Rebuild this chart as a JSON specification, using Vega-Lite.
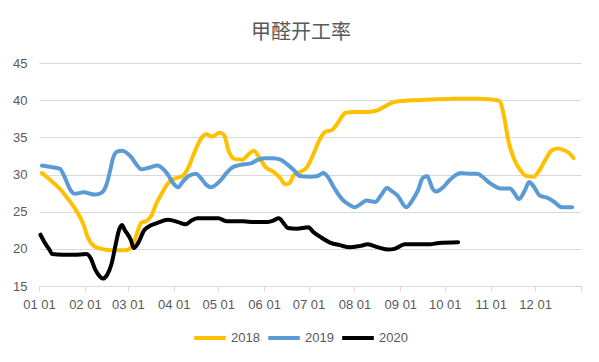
{
  "$schema": "https://vega.github.io/schema/vega-lite/v6.json",
  "autosize": "none",
  "width": 542,
  "height": 223,
  "padding": {"left": 39, "top": 63, "right": 18, "bottom": 76},
  "background": "white",
  "title": {
    "text": "甲醛开工率",
    "font": "Noto Sans CJK SC",
    "fontSize": 20,
    "fontWeight": "normal",
    "color": "#595959",
    "anchor": "middle",
    "frame": "group",
    "dx": -9,
    "offset": 14
  },
  "datasets": {
    "rates": [
      {"year": "2018", "date": "2018-01-03", "rate": 30.2},
      {"year": "2018", "date": "2018-01-09", "rate": 29.2},
      {"year": "2018", "date": "2018-01-15", "rate": 28.1},
      {"year": "2018", "date": "2018-01-21", "rate": 26.6},
      {"year": "2018", "date": "2018-01-26", "rate": 25.2},
      {"year": "2018", "date": "2018-01-31", "rate": 23.3},
      {"year": "2018", "date": "2018-02-03", "rate": 21.5},
      {"year": "2018", "date": "2018-02-07", "rate": 20.4},
      {"year": "2018", "date": "2018-02-12", "rate": 20.0},
      {"year": "2018", "date": "2018-02-20", "rate": 19.8},
      {"year": "2018", "date": "2018-02-28", "rate": 19.8},
      {"year": "2018", "date": "2018-03-04", "rate": 20.3},
      {"year": "2018", "date": "2018-03-07", "rate": 22.0},
      {"year": "2018", "date": "2018-03-10", "rate": 23.5},
      {"year": "2018", "date": "2018-03-14", "rate": 23.8},
      {"year": "2018", "date": "2018-03-17", "rate": 24.5},
      {"year": "2018", "date": "2018-03-20", "rate": 26.0},
      {"year": "2018", "date": "2018-03-24", "rate": 27.5},
      {"year": "2018", "date": "2018-03-28", "rate": 28.8},
      {"year": "2018", "date": "2018-04-01", "rate": 29.4},
      {"year": "2018", "date": "2018-04-07", "rate": 29.8},
      {"year": "2018", "date": "2018-04-11", "rate": 31.0},
      {"year": "2018", "date": "2018-04-15", "rate": 33.0},
      {"year": "2018", "date": "2018-04-20", "rate": 35.0},
      {"year": "2018", "date": "2018-04-23", "rate": 35.4},
      {"year": "2018", "date": "2018-04-27", "rate": 35.1},
      {"year": "2018", "date": "2018-05-02", "rate": 35.6},
      {"year": "2018", "date": "2018-05-05", "rate": 35.3},
      {"year": "2018", "date": "2018-05-08", "rate": 33.2},
      {"year": "2018", "date": "2018-05-12", "rate": 32.1},
      {"year": "2018", "date": "2018-05-17", "rate": 32.0},
      {"year": "2018", "date": "2018-05-22", "rate": 32.8},
      {"year": "2018", "date": "2018-05-25", "rate": 33.2},
      {"year": "2018", "date": "2018-05-29", "rate": 32.2},
      {"year": "2018", "date": "2018-06-02", "rate": 31.0},
      {"year": "2018", "date": "2018-06-07", "rate": 30.4},
      {"year": "2018", "date": "2018-06-12", "rate": 29.5},
      {"year": "2018", "date": "2018-06-15", "rate": 28.7},
      {"year": "2018", "date": "2018-06-18", "rate": 28.8},
      {"year": "2018", "date": "2018-06-21", "rate": 29.9},
      {"year": "2018", "date": "2018-06-25", "rate": 30.3},
      {"year": "2018", "date": "2018-06-30", "rate": 31.0},
      {"year": "2018", "date": "2018-07-04", "rate": 32.6},
      {"year": "2018", "date": "2018-07-08", "rate": 34.5},
      {"year": "2018", "date": "2018-07-12", "rate": 35.7},
      {"year": "2018", "date": "2018-07-17", "rate": 36.0},
      {"year": "2018", "date": "2018-07-21", "rate": 37.0},
      {"year": "2018", "date": "2018-07-26", "rate": 38.3},
      {"year": "2018", "date": "2018-08-01", "rate": 38.4},
      {"year": "2018", "date": "2018-08-09", "rate": 38.4},
      {"year": "2018", "date": "2018-08-16", "rate": 38.6},
      {"year": "2018", "date": "2018-08-21", "rate": 39.1},
      {"year": "2018", "date": "2018-08-27", "rate": 39.7},
      {"year": "2018", "date": "2018-09-03", "rate": 39.9},
      {"year": "2018", "date": "2018-09-13", "rate": 40.0},
      {"year": "2018", "date": "2018-09-23", "rate": 40.1},
      {"year": "2018", "date": "2018-10-08", "rate": 40.2},
      {"year": "2018", "date": "2018-10-23", "rate": 40.2},
      {"year": "2018", "date": "2018-11-02", "rate": 40.1},
      {"year": "2018", "date": "2018-11-07", "rate": 39.9},
      {"year": "2018", "date": "2018-11-10", "rate": 37.8},
      {"year": "2018", "date": "2018-11-13", "rate": 34.5},
      {"year": "2018", "date": "2018-11-17", "rate": 32.0},
      {"year": "2018", "date": "2018-11-21", "rate": 30.6},
      {"year": "2018", "date": "2018-11-25", "rate": 29.8},
      {"year": "2018", "date": "2018-11-30", "rate": 29.7},
      {"year": "2018", "date": "2018-12-04", "rate": 30.6},
      {"year": "2018", "date": "2018-12-08", "rate": 32.0},
      {"year": "2018", "date": "2018-12-12", "rate": 33.2},
      {"year": "2018", "date": "2018-12-16", "rate": 33.5},
      {"year": "2018", "date": "2018-12-20", "rate": 33.3},
      {"year": "2018", "date": "2018-12-24", "rate": 32.9},
      {"year": "2018", "date": "2018-12-27", "rate": 32.2},

      {"year": "2019", "date": "2019-01-03", "rate": 31.2},
      {"year": "2019", "date": "2019-01-09", "rate": 31.0},
      {"year": "2019", "date": "2019-01-15", "rate": 30.8},
      {"year": "2019", "date": "2019-01-18", "rate": 29.8},
      {"year": "2019", "date": "2019-01-22", "rate": 28.0},
      {"year": "2019", "date": "2019-01-25", "rate": 27.4},
      {"year": "2019", "date": "2019-01-31", "rate": 27.6},
      {"year": "2019", "date": "2019-02-08", "rate": 27.3},
      {"year": "2019", "date": "2019-02-12", "rate": 27.5},
      {"year": "2019", "date": "2019-02-16", "rate": 28.9},
      {"year": "2019", "date": "2019-02-18", "rate": 30.5},
      {"year": "2019", "date": "2019-02-20", "rate": 32.2},
      {"year": "2019", "date": "2019-02-23", "rate": 33.1},
      {"year": "2019", "date": "2019-02-26", "rate": 33.2},
      {"year": "2019", "date": "2019-03-03", "rate": 32.4},
      {"year": "2019", "date": "2019-03-07", "rate": 31.3},
      {"year": "2019", "date": "2019-03-10", "rate": 30.7},
      {"year": "2019", "date": "2019-03-15", "rate": 30.9},
      {"year": "2019", "date": "2019-03-21", "rate": 31.2},
      {"year": "2019", "date": "2019-03-25", "rate": 30.7},
      {"year": "2019", "date": "2019-03-28", "rate": 30.0},
      {"year": "2019", "date": "2019-03-31", "rate": 29.0},
      {"year": "2019", "date": "2019-04-04", "rate": 28.3},
      {"year": "2019", "date": "2019-04-07", "rate": 29.0},
      {"year": "2019", "date": "2019-04-11", "rate": 29.8},
      {"year": "2019", "date": "2019-04-16", "rate": 30.1},
      {"year": "2019", "date": "2019-04-19", "rate": 29.6},
      {"year": "2019", "date": "2019-04-23", "rate": 28.6},
      {"year": "2019", "date": "2019-04-26", "rate": 28.3},
      {"year": "2019", "date": "2019-05-03", "rate": 29.3},
      {"year": "2019", "date": "2019-05-07", "rate": 30.3},
      {"year": "2019", "date": "2019-05-11", "rate": 31.0},
      {"year": "2019", "date": "2019-05-16", "rate": 31.3},
      {"year": "2019", "date": "2019-05-23", "rate": 31.5},
      {"year": "2019", "date": "2019-05-27", "rate": 31.9},
      {"year": "2019", "date": "2019-06-01", "rate": 32.2},
      {"year": "2019", "date": "2019-06-07", "rate": 32.2},
      {"year": "2019", "date": "2019-06-12", "rate": 32.0},
      {"year": "2019", "date": "2019-06-17", "rate": 31.3},
      {"year": "2019", "date": "2019-06-21", "rate": 30.6},
      {"year": "2019", "date": "2019-06-25", "rate": 29.8},
      {"year": "2019", "date": "2019-07-02", "rate": 29.7},
      {"year": "2019", "date": "2019-07-07", "rate": 29.8},
      {"year": "2019", "date": "2019-07-11", "rate": 30.2},
      {"year": "2019", "date": "2019-07-14", "rate": 29.7},
      {"year": "2019", "date": "2019-07-18", "rate": 28.3},
      {"year": "2019", "date": "2019-07-24", "rate": 26.6},
      {"year": "2019", "date": "2019-07-28", "rate": 26.0},
      {"year": "2019", "date": "2019-08-01", "rate": 25.6},
      {"year": "2019", "date": "2019-08-05", "rate": 26.0},
      {"year": "2019", "date": "2019-08-09", "rate": 26.5},
      {"year": "2019", "date": "2019-08-15", "rate": 26.3},
      {"year": "2019", "date": "2019-08-19", "rate": 27.2},
      {"year": "2019", "date": "2019-08-23", "rate": 28.2},
      {"year": "2019", "date": "2019-08-26", "rate": 27.8},
      {"year": "2019", "date": "2019-08-30", "rate": 27.2},
      {"year": "2019", "date": "2019-09-05", "rate": 25.6},
      {"year": "2019", "date": "2019-09-09", "rate": 26.5},
      {"year": "2019", "date": "2019-09-13", "rate": 27.9},
      {"year": "2019", "date": "2019-09-16", "rate": 29.5},
      {"year": "2019", "date": "2019-09-19", "rate": 29.8},
      {"year": "2019", "date": "2019-09-23", "rate": 28.0},
      {"year": "2019", "date": "2019-09-25", "rate": 27.7},
      {"year": "2019", "date": "2019-09-30", "rate": 28.3},
      {"year": "2019", "date": "2019-10-04", "rate": 29.2},
      {"year": "2019", "date": "2019-10-12", "rate": 30.2},
      {"year": "2019", "date": "2019-10-18", "rate": 30.1},
      {"year": "2019", "date": "2019-10-23", "rate": 30.1},
      {"year": "2019", "date": "2019-10-27", "rate": 29.6},
      {"year": "2019", "date": "2019-10-31", "rate": 28.9},
      {"year": "2019", "date": "2019-11-04", "rate": 28.4},
      {"year": "2019", "date": "2019-11-08", "rate": 28.1},
      {"year": "2019", "date": "2019-11-14", "rate": 28.1},
      {"year": "2019", "date": "2019-11-17", "rate": 27.5},
      {"year": "2019", "date": "2019-11-20", "rate": 26.7},
      {"year": "2019", "date": "2019-11-24", "rate": 27.8},
      {"year": "2019", "date": "2019-11-27", "rate": 29.0},
      {"year": "2019", "date": "2019-11-30", "rate": 28.4},
      {"year": "2019", "date": "2019-12-04", "rate": 27.2},
      {"year": "2019", "date": "2019-12-10", "rate": 26.8},
      {"year": "2019", "date": "2019-12-14", "rate": 26.3},
      {"year": "2019", "date": "2019-12-19", "rate": 25.6},
      {"year": "2019", "date": "2019-12-26", "rate": 25.6},

      {"year": "2020", "date": "2020-01-02", "rate": 21.9},
      {"year": "2020", "date": "2020-01-05", "rate": 20.8},
      {"year": "2020", "date": "2020-01-08", "rate": 19.9},
      {"year": "2020", "date": "2020-01-10", "rate": 19.3},
      {"year": "2020", "date": "2020-01-17", "rate": 19.2},
      {"year": "2020", "date": "2020-01-25", "rate": 19.2},
      {"year": "2020", "date": "2020-02-02", "rate": 19.3},
      {"year": "2020", "date": "2020-02-05", "rate": 18.7},
      {"year": "2020", "date": "2020-02-08", "rate": 17.2},
      {"year": "2020", "date": "2020-02-11", "rate": 16.3},
      {"year": "2020", "date": "2020-02-13", "rate": 16.0},
      {"year": "2020", "date": "2020-02-16", "rate": 16.5},
      {"year": "2020", "date": "2020-02-19", "rate": 18.0},
      {"year": "2020", "date": "2020-02-22", "rate": 20.8},
      {"year": "2020", "date": "2020-02-24", "rate": 22.5},
      {"year": "2020", "date": "2020-02-26", "rate": 23.2},
      {"year": "2020", "date": "2020-02-28", "rate": 22.5},
      {"year": "2020", "date": "2020-03-03", "rate": 21.2},
      {"year": "2020", "date": "2020-03-05", "rate": 20.1},
      {"year": "2020", "date": "2020-03-08", "rate": 20.8},
      {"year": "2020", "date": "2020-03-12", "rate": 22.5},
      {"year": "2020", "date": "2020-03-17", "rate": 23.2},
      {"year": "2020", "date": "2020-03-21", "rate": 23.5},
      {"year": "2020", "date": "2020-03-28", "rate": 23.9},
      {"year": "2020", "date": "2020-04-04", "rate": 23.6},
      {"year": "2020", "date": "2020-04-09", "rate": 23.3},
      {"year": "2020", "date": "2020-04-13", "rate": 23.8},
      {"year": "2020", "date": "2020-04-17", "rate": 24.1},
      {"year": "2020", "date": "2020-04-26", "rate": 24.1},
      {"year": "2020", "date": "2020-05-01", "rate": 24.1},
      {"year": "2020", "date": "2020-05-07", "rate": 23.7},
      {"year": "2020", "date": "2020-05-18", "rate": 23.7},
      {"year": "2020", "date": "2020-05-25", "rate": 23.6},
      {"year": "2020", "date": "2020-06-03", "rate": 23.6},
      {"year": "2020", "date": "2020-06-07", "rate": 23.8},
      {"year": "2020", "date": "2020-06-11", "rate": 24.1},
      {"year": "2020", "date": "2020-06-14", "rate": 23.5},
      {"year": "2020", "date": "2020-06-17", "rate": 22.8},
      {"year": "2020", "date": "2020-06-23", "rate": 22.7},
      {"year": "2020", "date": "2020-07-01", "rate": 22.9},
      {"year": "2020", "date": "2020-07-04", "rate": 22.3},
      {"year": "2020", "date": "2020-07-09", "rate": 21.6},
      {"year": "2020", "date": "2020-07-16", "rate": 20.8},
      {"year": "2020", "date": "2020-07-22", "rate": 20.5},
      {"year": "2020", "date": "2020-07-29", "rate": 20.2},
      {"year": "2020", "date": "2020-08-05", "rate": 20.4},
      {"year": "2020", "date": "2020-08-10", "rate": 20.6},
      {"year": "2020", "date": "2020-08-17", "rate": 20.2},
      {"year": "2020", "date": "2020-08-24", "rate": 19.9},
      {"year": "2020", "date": "2020-08-28", "rate": 20.0},
      {"year": "2020", "date": "2020-09-04", "rate": 20.6},
      {"year": "2020", "date": "2020-09-14", "rate": 20.6},
      {"year": "2020", "date": "2020-09-21", "rate": 20.6},
      {"year": "2020", "date": "2020-09-27", "rate": 20.8},
      {"year": "2020", "date": "2020-10-10", "rate": 20.9}
    ]
  },
  "data": {"name": "rates"},
  "mark": {"type": "line", "interpolate": "monotone", "strokeWidth": 4, "strokeCap": "round", "strokeJoin": "round"},
  "encoding": {
    "x": {
      "field": "date",
      "type": "temporal",
      "timeUnit": "utcmonthdate",
      "scale": {
        "domain": [
          {"year": 2012, "month": 1, "date": 1, "utc": true},
          {"year": 2013, "month": 1, "date": 1, "utc": true}
        ]
      },
      "axis": {
        "title": null,
        "values": [
          {"year": 2012, "month": 1, "date": 1, "utc": true},
          {"year": 2012, "month": 2, "date": 1, "utc": true},
          {"year": 2012, "month": 3, "date": 1, "utc": true},
          {"year": 2012, "month": 4, "date": 1, "utc": true},
          {"year": 2012, "month": 5, "date": 1, "utc": true},
          {"year": 2012, "month": 6, "date": 1, "utc": true},
          {"year": 2012, "month": 7, "date": 1, "utc": true},
          {"year": 2012, "month": 8, "date": 1, "utc": true},
          {"year": 2012, "month": 9, "date": 1, "utc": true},
          {"year": 2012, "month": 10, "date": 1, "utc": true},
          {"year": 2012, "month": 11, "date": 1, "utc": true},
          {"year": 2012, "month": 12, "date": 1, "utc": true},
          {"year": 2013, "month": 1, "date": 1, "utc": true}
        ],
        "labelExpr": "utcyear(datum.value) > 2012 ? '' : utcFormat(datum.value, '%m %d')",
        "grid": false,
        "domainColor": "#d9d9d9",
        "tickColor": "#d9d9d9",
        "tickSize": 5,
        "labelPadding": 7,
        "labelFont": "Liberation Sans",
        "labelFontSize": 13,
        "labelColor": "#595959",
        "labelAngle": 0,
        "labelOverlap": false,
        "labelFlush": false
      }
    },
    "y": {
      "field": "rate",
      "type": "quantitative",
      "scale": {"domain": [15, 45], "nice": false, "zero": false},
      "axis": {
        "title": null,
        "values": [15, 20, 25, 30, 35, 40, 45],
        "domain": false,
        "ticks": false,
        "gridColor": "#d9d9d9",
        "gridWidth": 1,
        "labelPadding": 12,
        "labelFont": "Liberation Sans",
        "labelFontSize": 13,
        "labelColor": "#595959"
      }
    },
    "color": {
      "field": "year",
      "type": "nominal",
      "scale": {"domain": ["2018", "2019", "2020"], "range": ["#FFC000", "#5B9BD5", "#000000"]},
      "legend": {
        "title": null,
        "orient": "none",
        "legendX": 153,
        "legendY": 257,
        "direction": "horizontal",
        "symbolType": "stroke",
        "symbolSize": 1000,
        "symbolStrokeWidth": 4,
        "labelFont": "Liberation Sans",
        "labelFontSize": 13,
        "labelColor": "#595959",
        "columnPadding": 0,
        "labelOffset": 3
      }
    }
  },
  "config": {
    "view": {"stroke": null}
  }
}
